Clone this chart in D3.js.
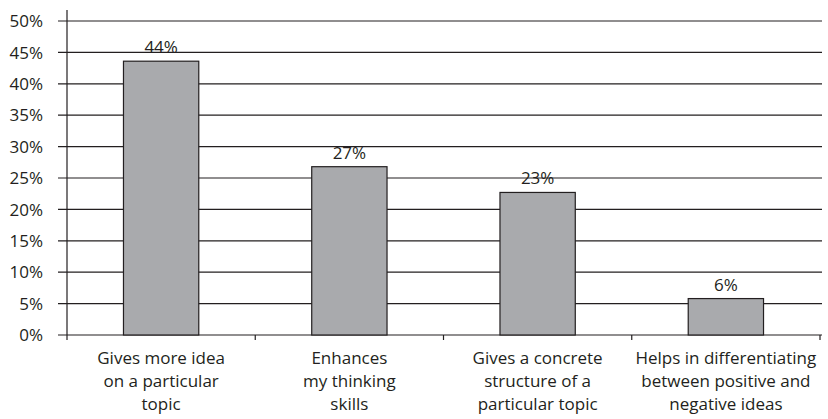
<!DOCTYPE html>
<html>
<head>
<meta charset="utf-8">
<script src="https://cdn.jsdelivr.net/npm/d3@7"></script>
<style>
  body { margin: 0; background: #fff; }
  text { font-family: "Open Sans", "Noto Sans", sans-serif; fill: #231f20; }
</style>
</head>
<body>
<div id="viz-container"></div>
<script>
// categories, one per bar (lines of the wrapped label)
const categories = [
    ["Gives more idea", "on a particular", "topic"],
    ["Enhances", "my thinking", "skills"],
    ["Gives a concrete", "structure of a", "particular topic"],
    ["Helps in differentiating", "between positive and", "negative ideas"]
];
const values = [43.6, 26.8, 22.7, 5.8];
const valueLabels = ["44%", "27%", "23%", "6%"];
const yTicks = [0, 5, 10, 15, 20, 25, 30, 35, 40, 45, 50];

const width = 828;
const height = 419;
const fontSize = 17;

const svg = d3.select('#viz-container')
    .append("svg")
    .attr("width", width)
    .attr("height", height);

// plot area edges
const plotLeft = 67, plotRight = 820, plotTop = 21, plotBottom = 335;

const x = d3.scaleBand()
    .domain(d3.range(categories.length))
    .range([plotLeft, plotRight])
    .paddingInner(0.6)
    .paddingOuter(0.3);

const y = d3.scaleLinear()
    .domain([0, 50])
    .range([plotBottom, plotTop]);

const ink = "#231f20";

// gridlines + y tick labels
const grid = svg.append("g").attr("class", "grid");
grid.selectAll("line")
    .data(yTicks)
    .join("line")
    .attr("x1", plotLeft - 9)
    .attr("x2", plotRight + 2)
    .attr("y1", d => y(d))
    .attr("y2", d => y(d))
    .attr("stroke", ink)
    .attr("stroke-width", 1.2);

grid.selectAll("text")
    .data(yTicks)
    .join("text")
    .attr("x", 43)
    .attr("y", d => y(d))
    .attr("dy", "0.36em")
    .attr("text-anchor", "end")
    .attr("font-size", fontSize)
    .text(d => d + "%");

// y axis line
svg.append("line")
    .attr("x1", plotLeft).attr("x2", plotLeft)
    .attr("y1", 10).attr("y2", plotBottom)
    .attr("stroke", ink)
    .attr("stroke-width", 1.2);

// x ticks between categories
const tickXs = d3.range(categories.length + 1).map(i => plotLeft + i * x.step());
svg.append("g")
    .selectAll("line")
    .data(tickXs)
    .join("line")
    .attr("x1", d => d).attr("x2", d => d)
    .attr("y1", plotBottom).attr("y2", plotBottom + 5)
    .attr("stroke", ink)
    .attr("stroke-width", 1.2);

// bars
svg.append("g")
    .selectAll("rect")
    .data(values)
    .join("rect")
    .attr("x", (d, i) => x(i))
    .attr("y", d => y(d))
    .attr("width", x.bandwidth())
    .attr("height", d => y(0) - y(d))
    .attr("fill", "#a9aaad")
    .attr("stroke", ink)
    .attr("stroke-width", 1.2);

// value labels
svg.append("g")
    .selectAll("text")
    .data(values)
    .join("text")
    .attr("x", (d, i) => x(i) + x.bandwidth() / 2)
    .attr("y", d => y(d) - 8)
    .attr("text-anchor", "middle")
    .attr("font-size", fontSize)
    .text((d, i) => valueLabels[i]);

// category labels
const cat = svg.append("g")
    .selectAll("text")
    .data(categories)
    .join("text")
    .attr("text-anchor", "middle")
    .attr("font-size", fontSize);

cat.selectAll("tspan")
    .data((d, i) => d.map(line => ({ line, i })))
    .join("tspan")
    .attr("x", d => x(d.i) + x.bandwidth() / 2)
    .attr("y", (d, j) => 364 + j * 23)
    .text(d => d.line);
</script>
</body>
</html>
